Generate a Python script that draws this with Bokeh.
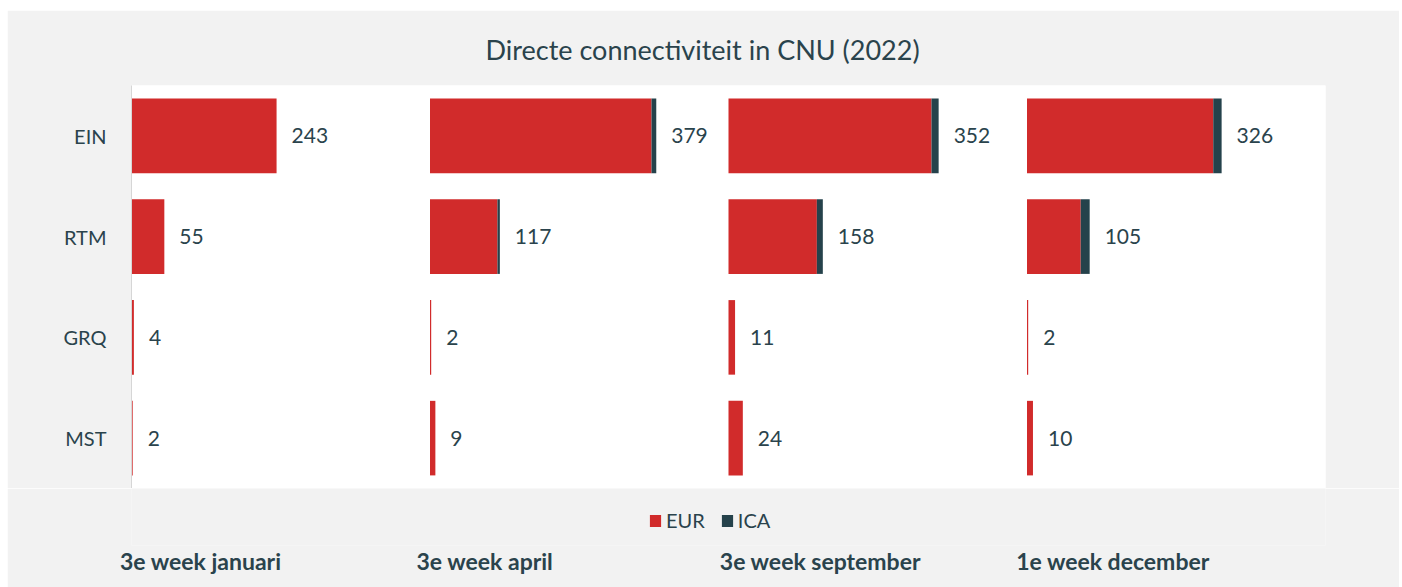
from bokeh.plotting import figure
from bokeh.layouts import column
from bokeh.models import (ColumnDataSource, FactorRange, Range1d, Legend, LegendItem, Title,
                          LinearAxis, FixedTicker)
from bokeh.core.properties import value
from bokeh.embed import file_html
from bokeh.resources import INLINE

# ---- data ----
chart_title = "Directe connectiviteit in CNU (2022)"
airports = ["EIN", "RTM", "GRQ", "MST"]
periods = ["3e week januari", "3e week april", "3e week september", "1e week december"]
series_names = ["EUR", "ICA"]

eur_jan = [243, 55, 4, 2]
ica_jan = [0, 0, 0, 0]
eur_apr = [371, 113, 2, 9]
ica_apr = [8, 4, 0, 0]
eur_sep = [340, 148, 11, 24]
ica_sep = [12, 10, 0, 0]
eur_dec = [312, 90, 2, 10]
ica_dec = [14, 15, 0, 0]

eur_all = [eur_jan, eur_apr, eur_sep, eur_dec]
ica_all = [ica_jan, ica_apr, ica_sep, ica_dec]

# ---- style / layout ----
RED = "#d12b2b"
DARK = "#25424b"
TEXT = "#2a434c"
BG = "#f2f2f2"
FONT = "Lato"
PANEL = 500          # x-units per period panel
FW, FH = 1194, 403   # plot-area size in px
LB, RB, TB = 124, 74, 75
XMAX = PANEL * len(periods)
period_label_center = [116, 592, 1154, 1644]   # centres of the period captions (x units)

cats, x0, e_end, t_end, labels = [], [], [], [], []
for i, per in enumerate(periods):
    for j, ap in enumerate(airports):
        base = i * PANEL
        e = eur_all[i][j]
        c = ica_all[i][j]
        cats.append(ap)
        x0.append(base)
        e_end.append(base + e)
        t_end.append(base + e + c)
        labels.append(str(e + c))

src = ColumnDataSource(dict(cat=cats, x0=x0, e_end=e_end, t_end=t_end, label=labels))

# ---- main chart ----
p = figure(
    frame_width=FW, frame_height=FH,
    min_border_left=LB, min_border_right=RB, min_border_top=TB, min_border_bottom=0,
    x_range=Range1d(0, XMAX),
    y_range=FactorRange(factors=list(reversed(airports))),
    x_axis_location=None,
    output_backend="svg", toolbar_location=None,
)
p.background_fill_color = "white"
p.border_fill_color = BG
p.outline_line_color = None
p.xgrid.visible = False
p.ygrid.visible = False

p.yaxis.axis_line_color = "#d6d6d6"
p.yaxis.major_tick_line_color = None
p.yaxis.minor_tick_line_color = None
p.yaxis.major_label_text_font = FONT
p.yaxis.major_label_text_font_size = "20px"
p.yaxis.major_label_text_color = TEXT
p.yaxis.major_label_standoff = 19

p.hbar(y="cat", left="x0", right="e_end", height=0.74, source=src,
       fill_color=RED, line_color=None)
p.hbar(y="cat", left="e_end", right="t_end", height=0.74, source=src,
       fill_color=DARK, line_color=None)

p.text(x="t_end", y="cat", text="label", source=src, x_offset=15,
       text_baseline="middle", text_align="left", text_font=value(FONT),
       text_font_size="21px", text_color=TEXT)

p.add_layout(Title(text=chart_title, align="left", offset=354, standoff=40,
                   text_font=FONT, text_font_size="27px", text_font_style="normal",
                   text_color=TEXT), "above")

# ---- bottom strip: legend + period captions ----
p2 = figure(
    frame_width=FW, frame_height=57,
    min_border_left=LB, min_border_right=RB, min_border_top=0, min_border_bottom=42,
    x_range=p.x_range, y_range=p.y_range,
    x_axis_location=None, y_axis_location=None,
    output_backend="svg", toolbar_location=None,
)
p2.background_fill_color = BG
p2.border_fill_color = BG
p2.outline_line_color = None
p2.xgrid.visible = False
p2.ygrid.visible = False

# hidden copies of the series, used only as legend sources
lg_eur = p2.hbar(y="cat", left="x0", right="e_end", height=0.74, source=src,
                 fill_color=RED, line_color=None, visible=False)
lg_ica = p2.hbar(y="cat", left="e_end", right="t_end", height=0.74, source=src,
                 fill_color=DARK, line_color=None, visible=False)

legend = Legend(
    items=[LegendItem(label=series_names[0], renderers=[lg_eur]),
           LegendItem(label=series_names[1], renderers=[lg_ica])],
    orientation="horizontal", location=(517, 13),
    glyph_width=14, glyph_height=15, label_standoff=4, spacing=15,
    padding=0, margin=0, border_line_color=None, background_fill_alpha=0,
    inactive_fill_alpha=0,
    label_text_font=FONT, label_text_font_size="20px", label_text_color=TEXT,
    label_height=12,
)
p2.add_layout(legend)

period_axis = LinearAxis(
    ticker=FixedTicker(ticks=period_label_center),
    major_label_overrides={x: t for x, t in zip(period_label_center, periods)},
    axis_line_color=None, major_tick_line_color=None, minor_tick_line_color=None,
    major_tick_in=0, major_tick_out=0, minor_tick_in=0, minor_tick_out=0,
    major_label_standoff=1,
    major_label_text_font=FONT, major_label_text_font_style="bold",
    major_label_text_font_size="23px", major_label_text_color=TEXT,
)
p2.add_layout(period_axis, "below")

layout = column(p, p2, spacing=0, styles={"margin-left": "7px", "margin-top": "10px"})

open("out.html", "w").write(file_html(layout, INLINE))
